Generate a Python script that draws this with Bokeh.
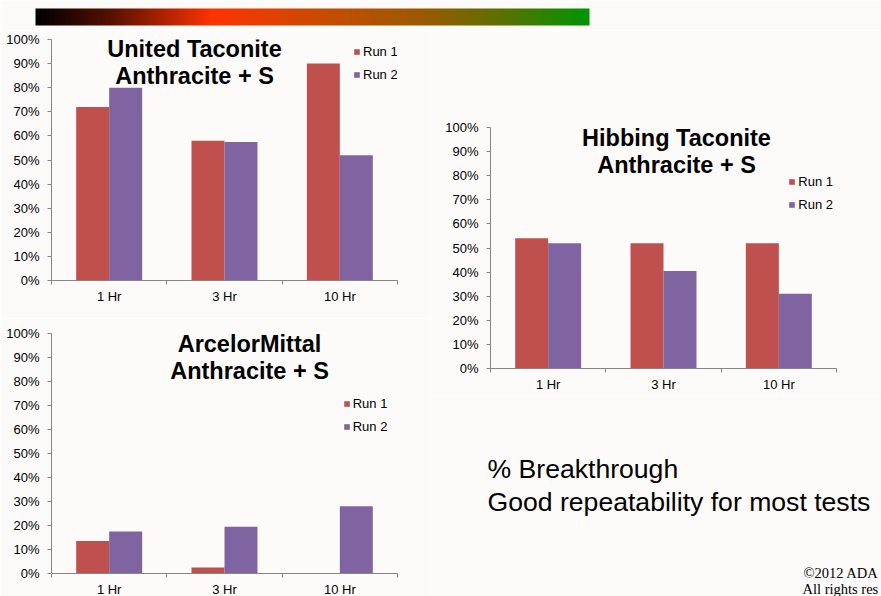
import numpy as np
from bokeh.plotting import figure
from bokeh.models import (FixedTicker, NumeralTickFormatter, Label, Legend,
                          LegendItem, Range1d, ColumnDataSource)
from bokeh.layouts import column, row
from bokeh.embed import file_html
from bokeh.resources import INLINE

# ---------------- data ----------------
hours = ["1 Hr", "3 Hr", "10 Hr"]
series_names = ["Run 1", "Run 2"]

ut_run1 = [0.72, 0.58, 0.90]      # United Taconite
ut_run2 = [0.80, 0.575, 0.52]

hib_run1 = [0.54, 0.52, 0.52]     # Hibbing Taconite
hib_run2 = [0.52, 0.405, 0.31]

am_run1 = [0.135, 0.025, 0.0]     # ArcelorMittal
am_run2 = [0.175, 0.195, 0.28]

pct_ticks = [i / 10 for i in range(11)]

notes = ["% Breakthrough", "Good repeatability for most tests"]
copyright_lines = ["©2012 ADA", "All rights res"]

# ---------------- style ----------------
BG = "#fcfbf9"
RED = "#C0504D"
PURPLE = "#8064A2"
AXIS = "#868686"
FONT = "Liberation Sans"
BAR_W = 0.286
ITEM_H = 15


def no_align(p):
    if "frame_align" in p.properties():
        p.frame_align = False


def bar_chart(title1, title2, run1, run2, frame_w, frame_h, bl, bt, br, bb,
              title_x, title_off1, title_off2, leg_x, leg_off):
    n = len(hours)
    p = figure(frame_width=frame_w, frame_height=frame_h,
               x_range=Range1d(0, n), y_range=Range1d(0, 1),
               output_backend="svg", toolbar_location=None,
               min_border_left=bl, min_border_top=bt,
               min_border_right=br, min_border_bottom=bb)
    p.background_fill_color = BG
    p.border_fill_color = BG
    p.outline_line_color = None
    p.xgrid.visible = False
    p.ygrid.visible = False

    centers = [i + 0.5 for i in range(n)]
    src = ColumnDataSource(dict(
        x1=[c - BAR_W / 2 for c in centers],
        x2=[c + BAR_W / 2 for c in centers],
        r1=run1, r2=run2))
    g1 = p.vbar(x="x1", top="r1", width=BAR_W, bottom=0, source=src,
                fill_color=RED, line_color=None)
    g2 = p.vbar(x="x2", top="r2", width=BAR_W, bottom=0, source=src,
                fill_color=PURPLE, line_color=None)

    # x axis: labels at centres, tick marks at category boundaries
    xa = p.xaxis[0]
    xa.ticker = FixedTicker(ticks=centers, minor_ticks=list(range(n + 1)))
    xa.major_label_overrides = {c: h for c, h in zip(centers, hours)}
    xa.major_tick_out = 0
    xa.major_tick_in = 0
    xa.minor_tick_out = 4
    xa.minor_tick_in = 0
    xa.minor_tick_line_color = AXIS
    xa.axis_line_color = AXIS
    xa.major_label_standoff = 4
    xa.major_label_text_font = FONT
    xa.major_label_text_font_size = "13px"
    xa.major_label_text_color = "#000000"

    ya = p.yaxis[0]
    ya.ticker = FixedTicker(ticks=pct_ticks)
    ya.formatter = NumeralTickFormatter(format="0%")
    ya.major_tick_out = 4
    ya.major_tick_in = 0
    ya.minor_tick_line_color = None
    ya.major_tick_line_color = AXIS
    ya.axis_line_color = AXIS
    ya.major_label_standoff = 8
    ya.major_label_text_font = FONT
    ya.major_label_text_font_size = "13px"
    ya.major_label_text_color = "#000000"

    for txt, off in ((title1, title_off1), (title2, title_off2)):
        p.add_layout(Label(x=title_x, y=frame_h - off, x_units="screen",
                           y_units="screen", text=txt, text_align="center",
                           text_baseline="middle", text_font=FONT,
                           text_font_style="bold", text_font_size="23.5px",
                           text_color="#000000"))

    spacing = 8
    leg_h = ITEM_H * 2 + spacing
    legend = Legend(items=[LegendItem(label=series_names[0], renderers=[g1]),
                           LegendItem(label=series_names[1], renderers=[g2])],
                    location=(leg_x, frame_h - (leg_off - ITEM_H / 2) - leg_h),
                    orientation="vertical", padding=0, margin=0,
                    spacing=spacing, glyph_width=7, glyph_height=7,
                    label_height=ITEM_H, label_standoff=3,
                    label_text_font=FONT, label_text_font_size="13px",
                    label_text_color="#000000",
                    background_fill_alpha=0, border_line_color=None)
    p.add_layout(legend)
    return p


c1 = bar_chart("United Taconite", "Anthracite + S", ut_run1, ut_run2,
               346, 241, 51, 9, 33, 38, 143, 9.8, 36.8, 302, 12)
c3 = bar_chart("ArcelorMittal", "Anthracite + S", am_run1, am_run2,
               346, 240, 51, 15, 33, 23, 198, 10.3, 37.5, 291.7, 70)
c2 = bar_chart("Hibbing Taconite", "Anthracite + S", hib_run1, hib_run2,
               346, 241, 60, 97, 45, 28, 186, 10, 37.7, 298.3, 54.7)
for p_ in (c1, c2, c3):
    no_align(p_)

# ---------------- text panel under the Hibbing chart ----------------
TW, TH = 451, 200
txt = figure(width=TW, height=TH, x_range=Range1d(0, TW),
             y_range=Range1d(0, TH), x_axis_type=None, y_axis_type=None,
             output_backend="svg", toolbar_location=None, min_border=0)
txt.background_fill_color = BG
txt.border_fill_color = BG
txt.outline_line_color = None
txt.grid.visible = False
no_align(txt)
for s, x, y in ((notes[0], 57, 128), (notes[1], 57, 94.3)):
    txt.add_layout(Label(x=x, y=y, x_units="screen", y_units="screen",
                         text=s, text_baseline="middle", text_font=FONT,
                         text_font_size="26.6px", text_color="#000000"))
for s, x, y in ((copyright_lines[0], 373, 24), (copyright_lines[1], 372, 8)):
    txt.add_layout(Label(x=x, y=y, x_units="screen", y_units="screen",
                         text=s, text_baseline="middle",
                         text_font="Liberation Serif", text_font_size="14.5px",
                         text_color="#000000"))

# ---------------- gradient bar ----------------
top = figure(width=881, height=30, x_range=Range1d(0, 881),
             y_range=Range1d(0, 30), x_axis_type=None, y_axis_type=None,
             output_backend="svg", toolbar_location=None, min_border=0)
top.background_fill_color = BG
top.border_fill_color = BG
top.outline_line_color = None
top.grid.visible = False
stops = [0.0, 0.14, 0.32, 0.52, 0.70, 0.835, 1.0]
cols = ["#000000", "#5a1200", "#ff3300", "#c84c00", "#9b5a00", "#5f7000", "#009600"]
rgb = np.array([[int(c[i:i + 2], 16) for i in (1, 3, 5)] for c in cols], dtype=float)
N = 554
t = np.linspace(0, 1, N)
img = np.empty((1, N), dtype=np.uint32)
view = img.view(dtype=np.uint8).reshape((1, N, 4))
for k in range(3):
    view[0, :, k] = np.interp(t, stops, rgb[:, k]).astype(np.uint8)
view[0, :, 3] = 255
top.image_rgba(image=[img], x=35, y=5, dw=554, dh=17)

layout = column(top, row(column(c1, c3), column(c2, txt)))

open("out.html", "w").write(file_html(layout, INLINE))
